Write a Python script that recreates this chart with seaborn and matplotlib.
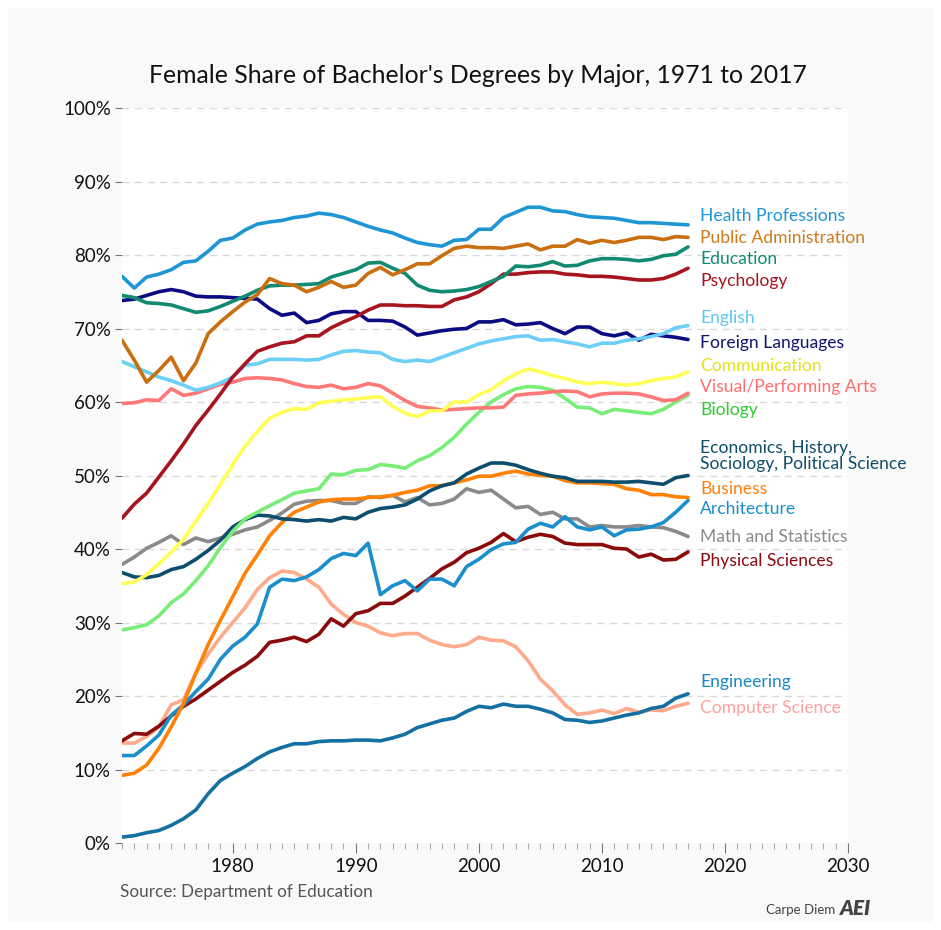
import matplotlib
matplotlib.use('Agg')
import matplotlib.pyplot as plt
from matplotlib.patches import Rectangle
from matplotlib.ticker import MultipleLocator, FixedLocator
import seaborn as sns
import pandas as pd

years = list(range(1971, 2018))

health = [77.1, 75.5, 77.0, 77.4, 78.0, 79.0, 79.2, 80.5, 82.0, 82.3,
          83.4, 84.2, 84.5, 84.7, 85.1, 85.3, 85.7, 85.5, 85.1, 84.5,
          83.9, 83.4, 83.0, 82.3, 81.7, 81.4, 81.2, 82.0, 82.1, 83.5,
          83.5, 85.1, 85.8, 86.5, 86.5, 86.0, 85.9, 85.5, 85.2, 85.1,
          85.0, 84.7, 84.4, 84.4, 84.3, 84.2, 84.1]
public_admin = [68.4, 65.7, 62.7, 64.3, 66.1, 62.9, 65.3, 69.3, 70.9, 72.3,
                73.6, 74.6, 76.8, 76.1, 75.9, 75.0, 75.6, 76.4, 75.6, 75.9,
                77.5, 78.3, 77.3, 78.0, 78.8, 78.8, 79.9, 80.9, 81.2, 81.0,
                81.0, 80.9, 81.2, 81.5, 80.7, 81.2, 81.2, 82.1, 81.6, 82.0,
                81.7, 82.0, 82.4, 82.4, 82.1, 82.5, 82.4]
education = [74.5, 74.2, 73.5, 73.4, 73.2, 72.7, 72.2, 72.4, 73.0, 73.7,
             74.4, 75.2, 75.8, 75.9, 75.9, 76.0, 76.1, 77.0, 77.5, 78.0,
             78.9, 79.0, 78.2, 77.5, 75.9, 75.2, 75.0, 75.1, 75.3, 75.7,
             76.4, 77.1, 78.5, 78.4, 78.6, 79.1, 78.5, 78.6, 79.2, 79.5,
             79.5, 79.4, 79.2, 79.4, 79.9, 80.1, 81.1]
psychology = [44.2, 46.1, 47.6, 49.8, 52.0, 54.3, 56.8, 58.9, 61.1, 63.4,
              65.2, 66.9, 67.5, 68.0, 68.2, 69.0, 69.0, 70.1, 70.9, 71.6,
              72.5, 73.2, 73.2, 73.1, 73.1, 73.0, 73.0, 73.9, 74.3, 75.0,
              76.1, 77.4, 77.4, 77.6, 77.7, 77.7, 77.4, 77.3, 77.1, 77.1,
              77.0, 76.8, 76.6, 76.6, 76.8, 77.4, 78.2]
english = [65.5, 64.8, 64.1, 63.4, 62.9, 62.3, 61.6, 62.0, 62.6, 63.4,
           65.0, 65.2, 65.8, 65.8, 65.8, 65.7, 65.8, 66.4, 66.9, 67.0,
           66.8, 66.7, 65.8, 65.5, 65.7, 65.5, 66.1, 66.7, 67.3, 67.9,
           68.3, 68.6, 68.9, 69.0, 68.4, 68.5, 68.2, 67.9, 67.5, 68.0,
           68.0, 68.4, 68.6, 68.9, 69.3, 70.1, 70.4]
foreign_lang = [73.8, 74.0, 74.5, 75.0, 75.3, 75.0, 74.4, 74.3, 74.3, 74.2,
                74.1, 74.0, 72.7, 71.8, 72.1, 70.8, 71.1, 72.0, 72.3, 72.3,
                71.1, 71.1, 71.0, 70.2, 69.1, 69.4, 69.7, 69.9, 70.0, 70.9,
                70.9, 71.2, 70.5, 70.6, 70.8, 70.0, 69.3, 70.2, 70.2, 69.3,
                69.0, 69.4, 68.4, 69.2, 69.0, 68.8, 68.5]
communication = [35.3, 35.5, 36.5, 38.0, 39.6, 41.3, 43.8, 46.2, 48.8, 51.5,
                 54.0, 56.0, 57.8, 58.6, 59.1, 59.0, 59.9, 60.1, 60.3, 60.4,
                 60.6, 60.7, 59.4, 58.5, 58.0, 58.8, 58.8, 60.0, 60.0, 61.0,
                 61.7, 62.9, 63.8, 64.5, 64.1, 63.6, 63.2, 62.7, 62.5, 62.7,
                 62.5, 62.3, 62.5, 62.9, 63.2, 63.4, 64.1]
visual_arts = [59.8, 59.9, 60.3, 60.2, 61.8, 60.9, 61.2, 61.8, 62.4, 62.7,
               63.2, 63.3, 63.2, 63.0, 62.5, 62.1, 62.0, 62.3, 61.8, 62.0,
               62.5, 62.2, 61.2, 60.2, 59.4, 59.2, 58.9, 59.0, 59.1, 59.2,
               59.2, 59.3, 60.9, 61.1, 61.2, 61.4, 61.5, 61.4, 60.7, 61.1,
               61.2, 61.2, 61.1, 60.7, 60.2, 60.3, 61.2]
biology = [29.0, 29.3, 29.7, 30.9, 32.7, 33.9, 35.7, 37.7, 40.2, 42.4,
           44.1, 45.0, 45.9, 46.7, 47.6, 47.9, 48.2, 50.2, 50.1, 50.7,
           50.8, 51.5, 51.3, 51.0, 52.0, 52.7, 53.8, 55.2, 57.0, 58.6,
           60.0, 61.0, 61.8, 62.1, 62.0, 61.6, 60.5, 59.3, 59.2, 58.4,
           59.0, 58.8, 58.6, 58.4, 59.0, 60.0, 60.9]
economics = [36.8, 36.2, 36.1, 36.4, 37.2, 37.6, 38.6, 39.8, 41.2, 43.0,
             44.0, 44.6, 44.5, 44.1, 44.0, 43.8, 44.0, 43.8, 44.3, 44.1,
             45.0, 45.5, 45.7, 46.0, 46.8, 47.9, 48.6, 49.0, 50.2, 51.0,
             51.7, 51.7, 51.4, 50.8, 50.3, 49.9, 49.7, 49.2, 49.2, 49.2,
             49.1, 49.1, 49.2, 49.0, 48.8, 49.7, 50.0]
business = [9.2, 9.5, 10.6, 12.9, 15.8, 19.0, 23.1, 27.0, 30.3, 33.5,
            36.7, 39.2, 41.8, 43.6, 45.0, 45.7, 46.4, 46.7, 46.8, 46.8,
            47.0, 47.1, 47.3, 47.7, 48.0, 48.6, 48.6, 49.0, 49.4, 49.9,
            49.9, 50.3, 50.6, 50.2, 50.0, 49.9, 49.3, 49.0, 49.0, 48.9,
            48.8, 48.2, 48.0, 47.4, 47.4, 47.1, 47.0]
architecture = [11.9, 11.9, 13.2, 14.7, 17.4, 18.8, 20.6, 22.3, 25.0, 26.8,
                28.0, 29.8, 34.8, 35.9, 35.7, 36.2, 37.2, 38.7, 39.4, 39.1,
                40.8, 33.8, 35.0, 35.7, 34.3, 35.9, 35.9, 35.0, 37.6, 38.6,
                39.9, 40.7, 40.9, 42.7, 43.5, 43.0, 44.4, 43.0, 42.6, 43.0,
                41.8, 42.6, 42.7, 43.0, 43.6, 45.0, 46.6]
math_stats = [37.9, 38.9, 40.1, 40.9, 41.8, 40.6, 41.5, 41.0, 41.5, 42.0,
              42.6, 43.0, 43.9, 44.9, 46.1, 46.5, 46.6, 46.6, 46.2, 46.2,
              47.1, 47.0, 47.3, 46.4, 47.0, 46.0, 46.2, 46.8, 48.2, 47.7,
              48.0, 46.8, 45.6, 45.8, 44.7, 45.0, 44.1, 44.1, 43.0, 43.2,
              43.0, 43.0, 43.2, 43.0, 42.9, 42.4, 41.7]
physical = [13.9, 14.9, 14.8, 15.9, 17.3, 18.6, 19.6, 20.8, 22.0, 23.2,
            24.2, 25.4, 27.3, 27.6, 28.0, 27.4, 28.4, 30.5, 29.5, 31.2,
            31.6, 32.6, 32.6, 33.6, 34.8, 36.0, 37.3, 38.2, 39.5, 40.1,
            40.9, 42.1, 41.0, 41.6, 42.0, 41.7, 40.8, 40.6, 40.6, 40.6,
            40.1, 40.0, 38.9, 39.3, 38.5, 38.6, 39.6]
engineering = [0.8, 1.0, 1.4, 1.7, 2.4, 3.3, 4.5, 6.7, 8.5, 9.5,
               10.4, 11.5, 12.4, 13.0, 13.5, 13.5, 13.8, 13.9, 13.9, 14.0,
               14.0, 13.9, 14.3, 14.8, 15.7, 16.2, 16.7, 17.0, 17.9, 18.6,
               18.4, 18.9, 18.6, 18.6, 18.2, 17.7, 16.8, 16.7, 16.4, 16.6,
               17.0, 17.4, 17.7, 18.3, 18.6, 19.7, 20.3]
computer_sci = [13.6, 13.6, 14.5, 15.8, 18.8, 19.5, 23.1, 25.7, 28.0, 30.0,
                32.0, 34.5, 36.1, 37.0, 36.8, 35.9, 34.8, 32.5, 31.1, 30.0,
                29.5, 28.6, 28.2, 28.5, 28.5, 27.6, 27.0, 26.7, 27.0, 28.0,
                27.6, 27.5, 26.7, 24.8, 22.3, 20.7, 18.8, 17.5, 17.7, 18.1,
                17.6, 18.3, 17.8, 18.1, 18.0, 18.6, 19.0]

series = {
    'Health Professions': health,
    'Public Administration': public_admin,
    'Education': education,
    'Psychology': psychology,
    'English': english,
    'Foreign Languages': foreign_lang,
    'Communication': communication,
    'Visual/Performing Arts': visual_arts,
    'Biology': biology,
    'Economics, History,\nSociology, Political Science': economics,
    'Business': business,
    'Architecture': architecture,
    'Math and Statistics': math_stats,
    'Physical Sciences': physical,
    'Engineering': engineering,
    'Computer Science': computer_sci,
}

# line colour, label colour, label height (%)
styles = {
    'Health Professions': ('#1f96d4', '#1f96d4', 85.3),
    'Public Administration': ('#c96f10', '#d07a1a', 82.3),
    'Education': ('#128a72', '#128a72', 79.4),
    'Psychology': ('#a8141e', '#a8141e', 76.5),
    'English': ('#6ccff6', '#5cc8f4', 71.4),
    'Foreign Languages': ('#0c0c82', '#141470', 68.0),
    'Communication': ('#ffff55', '#e2e21a', 64.9),
    'Visual/Performing Arts': ('#ff7878', '#ff6e6e', 62.0),
    'Biology': ('#78ee78', '#2ccc2c', 58.9),
    'Economics, History,\nSociology, Political Science': ('#0d4e6c', '#124e6a', 52.6),
    'Business': ('#ff8205', '#ff7f0e', 48.2),
    'Architecture': ('#1a8fcb', '#1a8fcb', 45.4),
    'Math and Statistics': ('#8a8a8a', '#8a8a8a', 41.6),
    'Physical Sciences': ('#8b0a0a', '#8b0a12', 38.4),
    'Engineering': ('#1570a2', '#1a88c8', 21.9),
    'Computer Science': ('#ffaa8a', '#ffa0a0', 18.4),
}

df = pd.concat([pd.DataFrame({'year': years, 'share': vals, 'major': name})
                for name, vals in series.items()], ignore_index=True)

sns.set_style('white')
plt.rcParams['font.family'] = ['Lato', 'DejaVu Sans']

fig = plt.figure(figsize=(9.41, 9.30), dpi=100, facecolor='white')
fig.patches.append(Rectangle((8 / 941, 8 / 930), 925 / 941, 914 / 930,
                             transform=fig.transFigure, facecolor='#f9f9f9',
                             edgecolor='none', zorder=-10))
ax = fig.add_axes([122 / 941, 1 - 843 / 930, 726 / 941, 735 / 930])
ax.set_facecolor('white')

palette = {k: v[0] for k, v in styles.items()}
sns.lineplot(data=df, x='year', y='share', hue='major', hue_order=list(series.keys())[::-1],
             palette=palette, linewidth=2.6, legend=False, ax=ax)

for name, (lc, tc, ly) in styles.items():
    ax.text(2018.0, ly, name, color=tc, fontsize=12.6, va='center', ha='left',
            linespacing=1.0, clip_on=False)

ax.set_xlim(1971, 2030)
ax.set_ylim(0, 100)
ax.set_yticks(range(0, 101, 10))
ax.set_yticklabels([f'{v}%' for v in range(0, 101, 10)])
ax.xaxis.set_major_locator(FixedLocator(range(1980, 2031, 10)))
ax.xaxis.set_minor_locator(MultipleLocator(1))
for y in range(10, 101, 10):
    ax.axhline(y, color='#d9d9d9', lw=1, ls=(0, (5, 4)), zorder=0)
for s in ax.spines.values():
    s.set_visible(False)
ax.tick_params(axis='y', which='major', length=5, color='#777777', labelsize=13.5, pad=3,
               left=True, labelcolor='#111111')
ax.tick_params(axis='x', which='major', length=7, color='#777777', labelsize=13.5, pad=4,
               bottom=True, labelcolor='#111111')
ax.tick_params(axis='x', which='minor', length=4, color='#999999', bottom=True)
ax.set_xlabel('')
ax.set_ylabel('')

fig.text(0.508, 0.919, "Female Share of Bachelor's Degrees by Major, 1971 to 2017",
         ha='center', va='center', fontsize=17.8, color='#111111')
fig.text(120 / 941, 1 - 892 / 930, 'Source: Department of Education',
         ha='left', va='center', fontsize=12.3, color='#555555')
fig.text(835 / 941, 1 - 910 / 930, 'Carpe Diem', ha='right', va='center',
         fontsize=9.5, color='#444444')
fig.text(840 / 941, 1 - 908 / 930, 'AEI', ha='left', va='center', fontsize=15,
         fontweight='heavy', fontstyle='italic', color='#444444')

fig.savefig('out.png', dpi=100, facecolor=fig.get_facecolor())
